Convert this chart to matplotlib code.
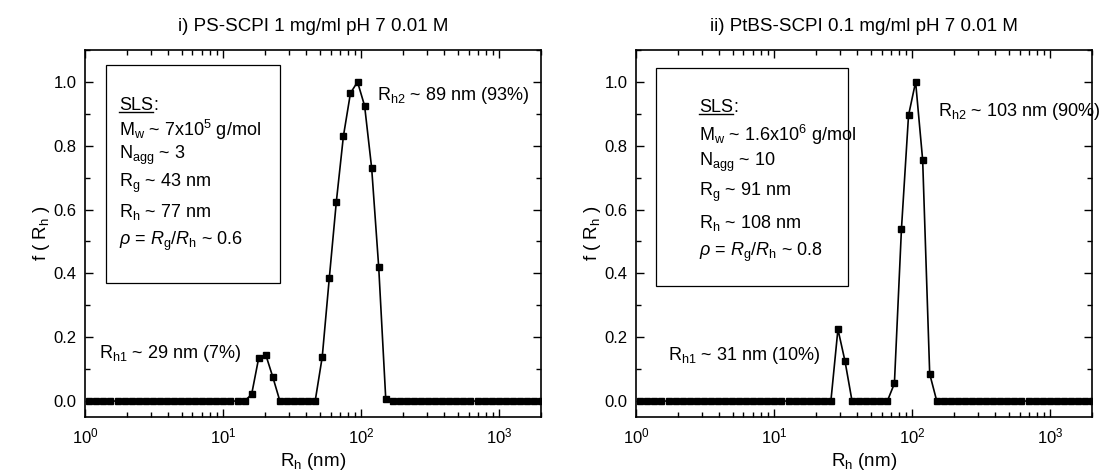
import matplotlib
matplotlib.use("Agg")
import matplotlib.pyplot as plt
from matplotlib.ticker import LogLocator, MultipleLocator, NullFormatter
from matplotlib.lines import Line2D

plt.rcParams['font.family'] = ['Liberation Sans', 'DejaVu Sans']
plt.rcParams['mathtext.fontset'] = 'custom'
plt.rcParams['mathtext.rm'] = 'Liberation Sans'
plt.rcParams['mathtext.it'] = 'Liberation Sans:italic'
plt.rcParams['mathtext.bf'] = 'Liberation Sans:bold'

# ---- data ----
rh_nm = [1.074, 1.208, 1.359, 1.529, 1.720, 1.935, 2.176, 2.448, 2.754, 3.097,
         3.483, 3.918, 4.408, 4.958, 5.577, 6.273, 7.057, 7.938, 8.929, 10.04,
         11.30, 12.71, 14.30, 16.08, 18.09, 20.35, 22.89, 25.75, 28.96, 32.58,
         36.64, 41.22, 46.37, 52.16, 58.67, 66.00, 74.24, 83.51, 93.94, 105.7,
         118.9, 133.7, 150.4, 169.2, 190.3, 214.1, 240.8, 270.9, 304.7, 342.8,
         385.5, 433.7, 487.9, 548.8, 617.3, 694.4, 781.1, 878.7, 988.1, 1111,
         1250, 1406, 1582, 1779, 2001]

f_ps = [0, 0, 0, 0, 0, 0, 0, 0, 0, 0,
        0, 0, 0, 0, 0, 0, 0, 0, 0, 0,
        0, 0, 0, 0.021, 0.135, 0.145, 0.075, 0, 0, 0,
        0, 0, 0, 0.138, 0.385, 0.625, 0.83, 0.965, 1.0, 0.925,
        0.73, 0.42, 0.006, 0, 0, 0, 0, 0, 0, 0,
        0, 0, 0, 0, 0, 0, 0, 0, 0, 0,
        0, 0, 0, 0, 0]

f_ptbs = [0, 0, 0, 0, 0, 0, 0, 0, 0, 0,
          0, 0, 0, 0, 0, 0, 0, 0, 0, 0,
          0, 0, 0, 0, 0, 0, 0, 0, 0.225, 0.125,
          0, 0, 0, 0, 0, 0, 0.055, 0.54, 0.895, 1.0,
          0.755, 0.085, 0, 0, 0, 0, 0, 0, 0, 0,
          0, 0, 0, 0, 0, 0, 0, 0, 0, 0,
          0, 0, 0, 0, 0]

titles = ["i) PS-SCPI 1 mg/ml pH 7 0.01 M",
          "ii) PtBS-SCPI 0.1 mg/ml pH 7 0.01 M"]

box_lines = [
    ["M$_\\mathregular{w}$ ~ 7x10$^\\mathregular{5}$ g/mol",
     "N$_\\mathregular{agg}$ ~ 3",
     "R$_\\mathregular{g}$ ~ 43 nm",
     "R$_\\mathregular{h}$ ~ 77 nm",
     "$\\rho$ = $R_\\mathregular{g}/R_\\mathregular{h}$ ~ 0.6"],
    ["M$_\\mathregular{w}$ ~ 1.6x10$^\\mathregular{6}$ g/mol",
     "N$_\\mathregular{agg}$ ~ 10",
     "R$_\\mathregular{g}$ ~ 91 nm",
     "R$_\\mathregular{h}$ ~ 108 nm",
     "$\\rho$ = $R_\\mathregular{g}/R_\\mathregular{h}$ ~ 0.8"],
]

peak1_labels = ["R$_\\mathregular{h1}$ ~ 29 nm (7%)", "R$_\\mathregular{h1}$ ~ 31 nm (10%)"]
peak2_labels = ["R$_\\mathregular{h2}$ ~ 89 nm (93%)", "R$_\\mathregular{h2}$ ~ 103 nm (90%)"]

# ---- figure ----
W, H = 1101, 472
fig = plt.figure(figsize=(W / 100, H / 100), dpi=100)

def px_axes(x0, x1, y0, y1):
    return fig.add_axes([x0 / W, 1 - y1 / H, (x1 - x0) / W, (y1 - y0) / H])

ax1 = px_axes(85, 541, 50, 417)
ax2 = px_axes(636, 1092, 50, 417)
axes = [ax1, ax2]
series = [f_ps, f_ptbs]

# layout (pixel positions) for texts
box_px = [(106, 280, 65, 283), (656, 848, 68, 286)]
text_x = [119, 699]
sls_y = [105, 107]
line_y = [[130, 155, 183, 212, 241], [135, 162, 192, 223, 252]]
p1_pos = [(99, 353), (668, 356)]
p2_pos = [(377, 95), (938, 112)]

FS = 13

for i, ax in enumerate(axes):
    ax.plot(rh_nm, series[i], color='black', lw=1.2, marker='s', ms=3.8,
            mfc='black', mec='black')
    ax.set_xscale('log')
    ax.set_xlim(1, 2000)
    ax.set_ylim(-0.05, 1.1)
    ax.yaxis.set_minor_locator(MultipleLocator(0.1))
    ax.xaxis.set_major_locator(LogLocator(base=10, numticks=10))
    ax.xaxis.set_minor_locator(LogLocator(base=10, subs=range(2, 10), numticks=20))
    ax.xaxis.set_minor_formatter(NullFormatter())
    ax.set_yticks([0, 0.2, 0.4, 0.6, 0.8, 1.0])
    ax.set_yticklabels(['0.0', '0.2', '0.4', '0.6', '0.8', '1.0'])
    ax.tick_params(which='both', direction='in', top=True, right=True,
                   labelsize=12, width=1.0, pad=6)
    ax.tick_params(which='major', length=6)
    ax.tick_params(which='minor', length=3.5)
    ax.tick_params(axis='x', which='major', pad=7)
    for s in ax.spines.values():
        s.set_linewidth(1.2)
    ax.set_title(titles[i], fontsize=13.5, pad=14)
    ax.set_xlabel("R$_\\mathregular{h}$ (nm)", fontsize=13.5, labelpad=3)
    ax.set_ylabel("f ( R$_\\mathregular{h}$ )", fontsize=13.5, labelpad=1)

    bx0, bx1, by0, by1 = box_px[i]
    ax_x0 = 85 if i == 0 else 636
    def fx(px):
        return (px - ax_x0) / 456
    def fy(py):
        return (417 - py) / 367
    rect = plt.Rectangle((fx(bx0), fy(by1)), fx(bx1) - fx(bx0), fy(by0) - fy(by1),
                         transform=ax.transAxes, fill=False, lw=0.9, ec='black')
    ax.add_patch(rect)

    t_sls = ax.text(fx(text_x[i]), fy(sls_y[i]), "SLS", transform=ax.transAxes,
                    fontsize=FS, va='center', ha='left')
    ax._sls_text = t_sls
    for j, s in enumerate(box_lines[i]):
        ax.text(fx(text_x[i]), fy(line_y[i][j]), s, transform=ax.transAxes,
                fontsize=FS, va='center', ha='left')

    ax.text(fx(p1_pos[i][0]), fy(p1_pos[i][1]), peak1_labels[i], transform=ax.transAxes,
            fontsize=FS, va='center', ha='left')
    ax.text(fx(p2_pos[i][0]), fy(p2_pos[i][1]), peak2_labels[i], transform=ax.transAxes,
            fontsize=FS, va='center', ha='left')

# underline "SLS" and add colon
fig.canvas.draw()
renderer = fig.canvas.get_renderer()
for ax in axes:
    t = ax._sls_text
    bb = t.get_window_extent(renderer=renderer)
    inv = ax.transAxes.inverted()
    (x0, y0) = inv.transform((bb.x0, bb.y0 + 2))
    (x1, _) = inv.transform((bb.x1, bb.y0 + 2))
    ax.add_line(Line2D([x0, x1], [y0, y0], transform=ax.transAxes, color='black', lw=1.0))
    xt, yt = t.get_position()
    ax.text(x1, yt, ":", transform=ax.transAxes, fontsize=FS, va='center', ha='left')

fig.savefig("out.png", dpi=100)
